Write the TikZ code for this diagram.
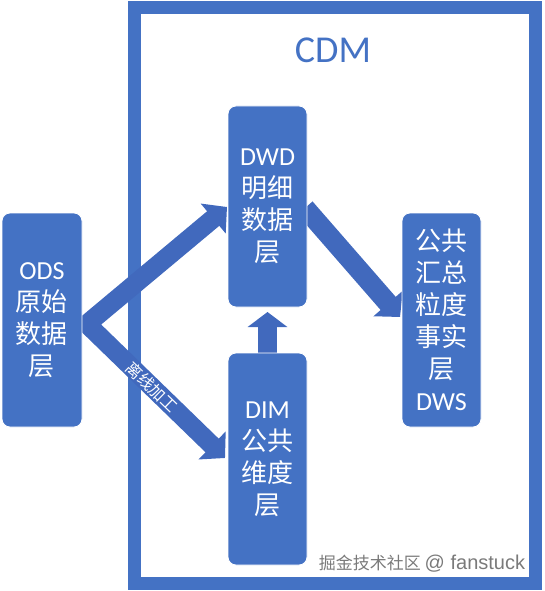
\documentclass[tikz,border=0pt]{standalone}
\usepackage{fontspec}
\setmainfont{Noto Sans CJK SC}
\newfontfamily\lat{Carlito}
\newfontfamily\ari{Liberation Sans}
\usetikzlibrary{arrows.meta}
\definecolor{ofblue}{HTML}{4472C4}
\definecolor{arblue}{HTML}{4169BD}
\definecolor{wmgray}{HTML}{7A7A7A}
\tikzset{
  layerbox/.style={fill=ofblue, draw=white, line width=0.8pt, rounded corners=8pt,
    minimum width=79pt, inner sep=0pt, text=white, align=center,
    font=\fontsize{26}{32}\selectfont},
  bigarrow/.style={draw=arblue, line width=#1, line join=miter},
}
\begin{document}
\begin{tikzpicture}[x=1pt,y=-1pt]
\useasboundingbox (0,0) rectangle (544,591);
% CDM frame
\node[draw=ofblue, line width=13pt, minimum width=401pt, minimum height=575pt, inner sep=0pt] (cdm) at (334.5,295.5) {};
\node[text=ofblue, font=\lat\fontsize{38}{40}\selectfont] (cdmlabel) at (333,50) {CDM};
% coordinates for arrows
\coordinate (tipUp) at (227,207);
\coordinate (vtx) at (87,324);
\coordinate (tipDown) at (225,458);
\coordinate (dwdOut) at (305,208);
\coordinate (dwsIn) at (400,317);
\coordinate (dimOut) at (267.5,354);
\coordinate (dwdIn) at (267.5,312);
% arrows
\draw[bigarrow=19pt, {Triangle[width=38pt,length=18pt]}-{Triangle[width=38pt,length=18pt]}] (tipUp) -- (vtx) -- (tipDown);
\path (vtx) -- (tipDown) node[pos=0.47, sloped, text=white, inner sep=0pt, font=\fontsize{16}{16}\selectfont] (offline) {离线加工};
\draw[bigarrow=20pt, -{Triangle[width=38pt,length=18pt]}] (dwdOut) -- (dwsIn);
\draw[bigarrow=19pt, -{Triangle[width=39pt,length=15pt]}] (dimOut) -- (dwdIn);
% boxes
\node[layerbox, minimum width=80pt, minimum height=214pt] (ods) at (42,320) {{\lat ODS}\\原始\\数据\\层};
\node[layerbox, minimum height=201pt] (dwd) at (267.5,206.5) {{\lat DWD}\\明细\\数据\\层};
\node[layerbox, minimum height=214pt] (dws) at (441.5,320) {公共\\汇总\\粒度\\事实\\层\\{\lat DWS}};
\node[layerbox, minimum height=212pt] (dim) at (267.5,459) {{\lat DIM}\\公共\\维度\\层};
% watermark
\node[text=wmgray, inner sep=0pt] (wm) at (422,564) {\fontsize{17}{19}\selectfont 掘金技术社区\ {\ari\fontsize{20}{20}\selectfont @ fanstuck}};
\end{tikzpicture}
\end{document}
